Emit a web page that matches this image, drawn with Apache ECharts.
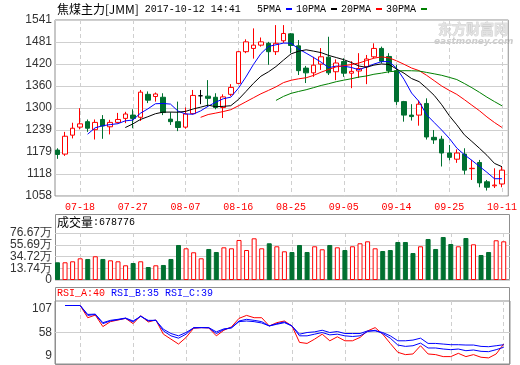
<!DOCTYPE html>
<html><head><meta charset="utf-8">
<script src="https://cdn.jsdelivr.net/npm/echarts@6/dist/echarts.min.js"></script>
<style>html,body{margin:0;padding:0;background:#fff}#c{width:520px;height:365px}</style>
</head><body><div id="c"></div>
<script>
const dates = ['07-13','07-14','07-17','07-18','07-19','07-20','07-21','07-24','07-25','07-26','07-27','07-28','07-31',
  '08-01','08-02','08-03','08-04','08-07','08-08','08-09','08-10','08-11','08-14','08-15','08-16','08-17','08-18','08-21','08-22','08-23','08-24','08-25','08-28','08-29','08-30','08-31',
  '09-01','09-04','09-05','09-06','09-07','09-08','09-11','09-12','09-13','09-14','09-15','09-18','09-19','09-20','09-21','09-22','09-25','09-26','09-27','09-28','09-29',
  '10-09','10-10','10-11'];
const openP  = [1184,1173,1225,1247,1262,1240,1268,1248,1260,1271,1280,1274,1337,1331,1329,1269,1262,1247,1284,1333,1332,1329,1301,1337,1367,1454,1463,1472,1477,1454,1484,1503,1470,1409,1396,1420,1439,1399,1427,1395,1401,1413,1440,1463,1441,1402,1317,1280,1280,1312,1219,1214,1176,1159,1173,1133,1150,1097,1086,1091];
const closeP = [1172,1222,1244,1256,1244,1260,1250,1260,1268,1283,1271,1343,1321,1338,1287,1262,1246,1283,1334,1333,1326,1301,1330,1356,1454,1481,1472,1481,1454,1477,1504,1471,1402,1396,1417,1440,1396,1423,1395,1400,1408,1434,1463,1428,1402,1317,1280,1276,1310,1220,1212,1176,1164,1176,1129,1134,1094,1082,1088,1129];
const lowP   = [1160,1168,1216,1241,1234,1213,1215,1227,1257,1258,1244,1264,1313,1317,1280,1253,1236,1243,1282,1310,1302,1296,1272,1332,1365,1450,1435,1468,1418,1445,1478,1450,1390,1368,1385,1404,1390,1376,1385,1354,1382,1365,1436,1422,1395,1308,1262,1265,1251,1213,1201,1139,1156,1149,1117,1102,1082,1073,1080,1082];
const highP  = [1189,1234,1259,1299,1268,1268,1280,1267,1286,1289,1296,1349,1345,1342,1340,1288,1317,1301,1349,1349,1376,1340,1337,1365,1456,1488,1518,1493,1481,1527,1527,1505,1486,1415,1440,1464,1495,1433,1436,1428,1450,1445,1477,1468,1450,1418,1319,1310,1320,1326,1239,1223,1198,1186,1189,1157,1157,1102,1134,1139];
const ma5  = [null,null,null,null,1227.6,1245.2,1250.8,1254.0,1256.4,1264.2,1266.4,1285.0,1297.2,1311.2,1312.0,1310.2,1290.8,1283.2,1282.4,1291.6,1304.4,1315.4,1324.8,1329.2,1353.4,1384.4,1418.6,1448.8,1468.4,1473.0,1477.6,1477.4,1461.6,1450.0,1438.0,1425.2,1410.2,1414.4,1414.2,1410.8,1404.4,1412.0,1420.0,1426.6,1427.0,1408.8,1378.0,1340.6,1317.0,1280.6,1259.6,1238.8,1216.4,1189.6,1171.4,1155.8,1139.4,1123.0,1105.4,1105.4];
const ma10 = [null,null,null,null,null,null,null,null,null,1245.9,1255.8,1267.9,1275.6,1283.8,1288.1,1288.3,1287.9,1290.2,1296.8,1301.8,1307.3,1303.1,1304.0,1305.8,1322.5,1344.4,1367.0,1386.8,1398.8,1413.2,1431.0,1448.0,1455.2,1459.2,1455.5,1451.4,1443.8,1438.0,1432.1,1424.4,1414.8,1411.1,1417.2,1420.4,1418.9,1406.6,1395.0,1380.3,1371.8,1353.8,1334.2,1308.4,1278.5,1253.3,1226.0,1207.7,1189.1,1169.7,1147.5,1138.4];
const ma20 = [null,null,null,null,null,null,null,null,null,null,null,null,null,null,null,null,null,null,null,1273.9,1281.6,1285.5,1289.8,1294.8,1305.3,1316.4,1327.5,1338.5,1347.8,1357.5,1369.2,1375.6,1379.6,1382.5,1389.0,1397.9,1405.4,1412.4,1415.5,1418.8,1422.9,1429.6,1436.2,1439.8,1437.2,1429.0,1419.4,1409.2,1402.0,1389.1,1374.5,1359.8,1347.9,1336.9,1322.5,1307.2,1292.1,1275.0,1259.7,1246.1];
const ma30 = [null,null,null,null,null,null,null,null,null,null,null,null,null,null,null,null,null,null,null,null,null,null,null,null,null,null,null,null,null,1320.3,1331.4,1339.7,1344.9,1349.6,1355.4,1361.4,1366.2,1371.7,1375.9,1379.8,1384.4,1387.4,1392.1,1395.1,1399.0,1400.8,1401.9,1401.7,1400.9,1397.1,1393.3,1389.2,1383.6,1377.6,1366.8,1355.2,1342.6,1329.3,1317.1,1305.5];
const volume = [28.9,28.9,30.5,35.4,34.3,38.7,34.3,32.1,30.5,24.0,27.7,30.5,21.2,24.0,24.5,34.3,57.1,51.7,45.2,35.4,50.6,45.7,53.3,51.7,65.3,48.9,68.0,51.7,59.9,55.0,46.8,45.7,57.1,45.7,55.0,50.1,57.1,53.3,48.9,55.0,59.9,63.1,51.7,47.3,48.9,62.0,62.0,44.0,55.0,66.9,50.6,70.1,58.7,55.0,68.5,58.2,40.8,45.7,64.8,63.1];
const rsiA = [null,100,100,100,81.0,85.1,67.2,74.9,77.4,80.0,71.8,84.1,74.4,77.4,55.4,47.7,40.0,50.3,64.6,65.6,65.1,52.8,61.5,66.7,80.0,84.6,81.0,81.0,68.2,73.3,75.9,68.2,42.6,41.0,47.7,55.4,45.1,51.3,45.1,45.1,50.3,60.5,65.6,55.4,41.0,27.2,23.6,24.6,37.4,24.6,23.6,20.5,20.5,25.6,20.5,23.6,19.5,18.5,24.6,40];
const rsiB = [null,100,100,100,84.6,86.0,71.8,76.0,77.9,80.0,74.4,83.6,75.9,77.2,60.5,52.8,49.2,55.4,65.6,65.6,65.3,56.4,62.6,65.6,75.9,78.5,76.9,74.9,68.2,71.8,74.4,68.2,52.8,52.8,55.4,58.0,54.3,55.4,52.8,51.8,52.8,59.5,61.5,56.4,49.2,38.5,36.4,37.4,41.5,33.9,33.9,32.3,31.3,32.3,29.7,30.8,28.7,28.2,31.3,35];
const rsiC = [null,100,100,100,86.1,86.6,73.3,76.9,78.5,80.5,75.9,83.1,76.9,76.9,63.1,56.4,52.8,58.0,65.1,65.6,65.6,59.0,63.6,65.1,74.9,75.9,74.9,72.8,68.2,70.8,73.3,68.2,55.4,58.0,59.0,61.5,58.0,59.5,56.4,56.4,56.4,60.5,60.5,58.0,52.8,45.1,45.1,46.2,49.2,41.0,41.0,40.0,39.0,39.0,38.5,38.5,36.4,35.9,37.4,39];
const xLabelIdx = [3,10,17,24,31,38,45,52,59];
const priceTicks = [1058,1118.375,1178.75,1239.125,1299.5,1359.875,1420.25,1480.625,1541];
const priceTickLabels = ['1058','1118','1179','1239','1300','1360','1420','1481','1541'];
const volTicks = [0,19.1675,38.335,57.5025,76.67];
const volTickLabels = ['0','13.74万','34.72万','55.69万','76.67万'];
const rsiTicks = [9,58,107];
const rsiTickLabels = ['9','58','107'];
const rsiGridTicks = [58];

const RED = '#ff0000', GREEN = '#007030', GRIDC = '#cfcfcf', FRAME = '#8f8f8f';
const pick = (ticks, labels) => v => { const k = ticks.findIndex(t => Math.abs(t - v) < 0.01); return k < 0 ? '' : labels[k]; };
const toXY = arr => arr.map((v, i) => [i, v]).filter(p => p[1] != null);
const everyOther = (arr, odd) => arr.filter((v, i) => (i % 2 === 1) === odd);

const candleData = dates.map((d, i) => [i, openP[i], closeP[i], lowP[i], highP[i]]);
const volData = volume.map((v, i) => {
  const up = closeP[i] >= openP[i];
  return { value: [i, v], itemStyle: up ? { color: '#fff', borderColor: RED, borderWidth: 1 } : { color: GREEN, borderColor: GREEN, borderWidth: 1 } };
});

function xAxisFor(gi, show) {
  return {
    type: 'value', gridIndex: gi, min: -0.33, max: 59.83,
    axisLine: { show: false },
    axisTick: { show: false, customValues: xLabelIdx },
    axisLabel: { show: show, customValues: xLabelIdx, formatter: v => dates[Math.round(v)], color: RED,
      fontFamily: 'Liberation Mono', fontSize: 10, margin: 6, showMinLabel: true, showMaxLabel: true },
    splitLine: { show: true, lineStyle: { color: GRIDC, type: [4, 3] } }
  };
}
const yLab = { color: '#333', fontFamily: 'Liberation Sans', fontSize: 12, margin: 3, showMinLabel: true, showMaxLabel: true, hideOverlap: false };
const richC = { fontFamily: 'Noto Sans CJK SC', fontSize: 12, color: '#000', fontWeight: 'normal' };
const richA = { fontFamily: 'Liberation Mono', fontSize: 10, color: '#000', fontWeight: 'normal' };

const chart = echarts.init(document.getElementById('c'), null, { renderer: 'canvas' });
chart.setOption({
  animation: false,
  backgroundColor: '#fff',
  title: [
    { left: 57, top: 3, padding: 0, text: '{c|焦煤主力[JMM]}{a| 2017-10-12 14:41}',
      textStyle: { fontWeight: 'normal', rich: { c: richC, a: richA } } },
    { left: 57, top: 216, padding: 0, text: '{c|成交量}{a|:678776}',
      textStyle: { fontWeight: 'normal', rich: { c: richC, a: richA } } },
    { left: 57, top: 288, padding: 0, text: '{r|RSI_A:40}{b| RSI_B:35 RSI_C:39}',
      textStyle: { fontWeight: 'normal', rich: { r: Object.assign({}, richA, { color: RED }), b: Object.assign({}, richA, { color: '#0000ff' }) } } }
  ],
  legend: {
    left: 257, top: 4, padding: 0, itemGap: 4, itemWidth: 6, itemHeight: 2, align: 'right', icon: 'rect',
    selectedMode: false, data: ['5PMA', '10PMA', '20PMA', '30PMA'],
    textStyle: { color: '#000', fontFamily: 'Liberation Mono', fontSize: 10 }
  },
  grid: [
    { left: 55, top: 20, width: 455, height: 176, show: true, borderColor: FRAME, borderWidth: 1 },
    { left: 55, top: 233, width: 455, height: 47, show: false },
    { left: 55, top: 301, width: 455, height: 63, show: true, borderColor: FRAME, borderWidth: 1 }
  ],
  xAxis: [xAxisFor(0, true), xAxisFor(1, false), xAxisFor(2, false)],
  yAxis: [
    { type: 'value', gridIndex: 0, min: 1058, max: 1541, axisLine: { show: false },
      axisTick: { show: false, customValues: priceTicks },
      axisLabel: Object.assign({ customValues: priceTicks, formatter: pick(priceTicks, priceTickLabels) }, yLab),
      splitLine: { show: true, lineStyle: { color: GRIDC } } },
    { type: 'value', gridIndex: 1, min: 0, max: 76.67, axisLine: { show: false },
      axisTick: { show: false, customValues: volTicks },
      axisLabel: Object.assign({ customValues: everyOther(volTicks, false), formatter: pick(volTicks, volTickLabels) }, yLab),
      splitLine: { show: true, lineStyle: { color: GRIDC } } },
    { type: 'value', gridIndex: 2, min: 9, max: 107, axisLine: { show: false },
      axisTick: { show: false, customValues: rsiGridTicks },
      axisLabel: Object.assign({ customValues: rsiTicks, formatter: pick(rsiTicks, rsiTickLabels),
        verticalAlignMinLabel: 'bottom', verticalAlignMaxLabel: 'top' }, yLab, { lineHeight: 16 }),
      splitLine: { show: true, lineStyle: { color: GRIDC } } },
    { type: 'value', gridIndex: 1, min: 0, max: 76.67, position: 'left', offset: 0, axisLine: { show: false },
      axisTick: { show: false, customValues: everyOther(volTicks, true) },
      axisLabel: Object.assign({ customValues: everyOther(volTicks, true), formatter: pick(volTicks, volTickLabels) }, yLab),
      splitLine: { show: false } }
  ],
  graphic: [
    { type: 'rect', silent: true, shape: { x: 55.5, y: 214.5, width: 454, height: 65 }, style: { fill: 'none', stroke: FRAME, lineWidth: 1 } },
    { type: 'rect', silent: true, shape: { x: 55.5, y: 287.5, width: 454, height: 77 }, style: { fill: 'none', stroke: FRAME, lineWidth: 1 } },
    { type: 'text', silent: true, x: 438, y: 22, z: -1, style: { text: '东方财富网', font: 'bold 14px "Noto Sans CJK SC"', fill: '#e2e2e2', stroke: '#c4c4c4', lineWidth: 0.6 } },
    { type: 'text', silent: true, x: 434, y: 37, z: -1, style: { text: 'eastmoney.com', font: 'italic bold 9px "DejaVu Sans"', fill: '#cdcdcd' } }
  ],
  series: [
    { type: 'candlestick', xAxisIndex: 0, yAxisIndex: 0, data: candleData, barWidth: 5,
      itemStyle: { color: '#fff', color0: GREEN, borderColor: RED, borderColor0: GREEN, borderColorDoji: '#000', borderWidth: 1 } },
    { type: 'line', name: '5PMA', xAxisIndex: 0, yAxisIndex: 0, data: toXY(ma5), color: '#0000ff', symbol: 'none', lineStyle: { width: 1 } },
    { type: 'line', name: '10PMA', xAxisIndex: 0, yAxisIndex: 0, data: toXY(ma10), color: '#000000', symbol: 'none', lineStyle: { width: 1 } },
    { type: 'line', name: '20PMA', xAxisIndex: 0, yAxisIndex: 0, data: toXY(ma20), color: '#ff0000', symbol: 'none', lineStyle: { width: 1 } },
    { type: 'line', name: '30PMA', xAxisIndex: 0, yAxisIndex: 0, data: toXY(ma30), color: '#008000', symbol: 'none', lineStyle: { width: 1 } },
    { type: 'bar', xAxisIndex: 1, yAxisIndex: 1, data: volData, barWidth: 5 },
    { type: 'line', name: 'RSI_A', xAxisIndex: 2, yAxisIndex: 2, data: toXY(rsiA), color: RED, symbol: 'none', lineStyle: { width: 1 } },
    { type: 'line', name: 'RSI_B', xAxisIndex: 2, yAxisIndex: 2, data: toXY(rsiB), color: '#0000ff', symbol: 'none', lineStyle: { width: 1 } },
    { type: 'line', name: 'RSI_C', xAxisIndex: 2, yAxisIndex: 2, data: toXY(rsiC), color: '#0000ff', symbol: 'none', lineStyle: { width: 1 } }
  ]
});
</script></body></html>
